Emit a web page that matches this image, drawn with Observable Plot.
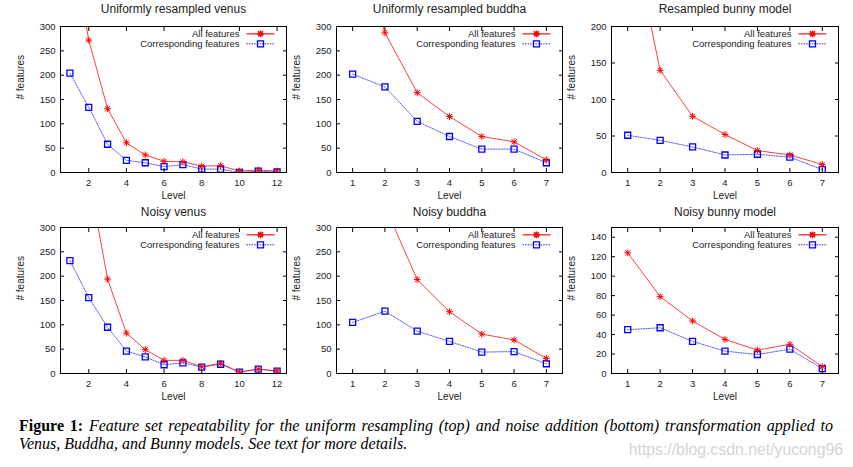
<!DOCTYPE html>
<html><head><meta charset="utf-8">
<script src="https://cdn.jsdelivr.net/npm/d3@7"></script>
<script src="https://cdn.jsdelivr.net/npm/@observablehq/plot@0.6"></script>
<style>
body{margin:0;background:#fff;}
#fig{position:relative;width:853px;height:467px;overflow:hidden;background:#fff;}
.panel{position:absolute;}
.panel svg{overflow:visible;}
.cap{position:absolute;left:19px;font-family:"Liberation Serif","Times New Roman",serif;font-size:16px;line-height:18px;color:#000;white-space:nowrap;}
#cap1{top:416.5px;width:814px;text-align:justify;text-align-last:justify;white-space:normal;}
#cap2{top:434.5px;}
#wm{position:absolute;right:10px;top:441px;font-family:"Liberation Sans",Arial,sans-serif;font-size:15.8px;line-height:18px;color:#d4d4d4;}
</style></head>
<body><div id="fig"></div>
<script>
// ---- data ----
const levels12 = [1,2,3,4,5,6,7,8,9,10,11,12];
const levels7 = [1,2,3,4,5,6,7];
const xTicks12 = [2,4,6,8,10,12];
const xTicks7 = [1,2,3,4,5,6,7];
const yTicks300 = [0,50,100,150,200,250,300];
const yTicks200 = [0,50,100,150,200];
const yTicks140 = [0,20,40,60,80,100,120,140];
const legendLabels = ["All features", "Corresponding features"];
const titles = ["Uniformly resampled venus","Uniformly resampled buddha","Resampled bunny model","Noisy venus","Noisy buddha","Noisy bunny model"];
const xLabel = "Level";
const yLabel = "# features";
const captionBold = "Figure 1:";
const captionLine1 = "Feature set repeatability for the uniform resampling (top) and noise addition (bottom) transformation applied to";
const captionLine2 = "Venus, Buddha, and Bunny models. See text for more details.";
const watermark = "https://blog.csdn.net/yucong96";

const venusUniformAll  = [492, 272, 131, 61, 36, 23, 22, 13, 14, 3, 5, 3];
const venusUniformCorr = [204, 134, 58, 25, 20, 12, 16, 7, 7, 0, 3, 1];
const buddhaUniformAll  = [500, 287, 164, 115, 74, 63, 26];
const buddhaUniformCorr = [202, 176, 105, 74, 48, 48, 20];
const bunnyResampledAll  = [354, 140, 77, 52, 30, 24, 11];
const bunnyResampledCorr = [51, 44, 35, 24, 25, 21, 4];
const venusNoisyAll  = [600, 406, 194, 83, 49, 27, 27, 14, 21, 3, 9, 5];
const venusNoisyCorr = [232, 156, 95, 46, 34, 18, 22, 13, 19, 3, 9, 5];
const buddhaNoisyAll  = [450, 344, 193, 127, 81, 69, 31];
const buddhaNoisyCorr = [105, 128, 87, 66, 44, 45, 20];
const bunnyNoisyAll  = [124, 79, 54, 35, 24, 30, 7];
const bunnyNoisyCorr = [45, 47, 33, 23, 19.5, 25, 5];

// ---- symbols ----
const starSymbol = {draw(ctx){ const r=3.4, d=2.5;
  ctx.moveTo(-r,0); ctx.lineTo(r,0); ctx.moveTo(0,-r); ctx.lineTo(0,r);
  ctx.moveTo(-d,-d); ctx.lineTo(d,d); ctx.moveTo(-d,d); ctx.lineTo(d,-d);}};
const squareSymbol = {draw(ctx){ const h=3; ctx.moveTo(-h,-h); ctx.lineTo(h,-h); ctx.lineTo(h,h); ctx.lineTo(-h,h); ctx.closePath(); }};
const lineSymbol = {draw(ctx){ ctx.moveTo(-14,0); ctx.lineTo(14,0); }};

const RED = "#ff0000", BLUE = "#0000ff";
const cols = [{left:0,width:290,ml:60,mr:4},{left:285,width:280,ml:51,mr:3},{left:565,width:280,ml:46,mr:7}];
const rowsCfg = [{top:0,height:200,mt:26,mb:28,tdy:-17},{top:200,height:205,mt:27,mb:32,tdy:-15.5}];

function panel(idx, levels, all, corr, xTicks, yDomain, yTicks) {
  const c = cols[idx % 3], r = rowsCfg[Math.floor(idx / 3)];
  const data = levels.map((l, i) => ({level: l, all: all[i], corr: corr[i]}));
  const txt = {fill: "#222", stroke: "none", lineAnchor: "middle"};
  const plot = Plot.plot({
    width: c.width, height: r.height,
    marginLeft: c.ml, marginRight: c.mr, marginTop: r.mt, marginBottom: r.mb,
    style: {fontFamily: "'Liberation Sans', Arial, sans-serif", fontSize: "9.5px", color: "#222", background: "transparent"},
    x: {domain: [0.5, levels.length + 0.5]},
    y: {domain: yDomain},
    marks: [
      Plot.axisX(xTicks, {anchor: "bottom", tickSize: -4, tickPadding: 10.5, label: null, stroke: "#000"}),
      Plot.axisX(xTicks, {anchor: "top", tickSize: -4, fill: "none", label: null, stroke: "#000"}),
      Plot.axisY(yTicks, {anchor: "left", tickSize: -4, tickPadding: 9, label: null, stroke: "#000"}),
      Plot.axisY(yTicks, {anchor: "right", tickSize: -4, fill: "none", label: null, stroke: "#000"}),
      Plot.line(data, {x: "level", y: "corr", stroke: BLUE, strokeOpacity: 0.65, strokeWidth: 1, strokeDasharray: "1.3,1.3", clip: true}),
      Plot.line(data, {x: "level", y: "all", stroke: RED, strokeOpacity: 0.75, strokeWidth: 1, clip: true}),
      Plot.dot(data, {x: "level", y: "corr", symbol: squareSymbol, stroke: BLUE, fill: "none", strokeWidth: 1.3, clip: true}),
      Plot.dot(data, {x: "level", y: "all", symbol: starSymbol, stroke: RED, fill: "none", strokeWidth: 1, clip: true}),
      Plot.frame({stroke: "#000", strokeWidth: 1}),
      // legend
      Plot.text([legendLabels[0]], {text: d => d, frameAnchor: "top-right", dx: -47, dy: 7.3, textAnchor: "end", fontSize: 9.5, ...txt}),
      Plot.text([legendLabels[1]], {text: d => d, frameAnchor: "top-right", dx: -47, dy: 17, textAnchor: "end", fontSize: 9.5, ...txt}),
      Plot.dot([legendLabels[0]], {frameAnchor: "top-right", dx: -26, dy: 7.3, symbol: lineSymbol, stroke: RED, strokeOpacity: 0.75, fill: "none"}),
      Plot.dot([legendLabels[0]], {frameAnchor: "top-right", dx: -26, dy: 7.3, symbol: starSymbol, stroke: RED, fill: "none"}),
      Plot.dot([legendLabels[1]], {frameAnchor: "top-right", dx: -26, dy: 17.3, symbol: lineSymbol, stroke: BLUE, strokeOpacity: 0.65, strokeDasharray: "1.3,1.3", fill: "none"}),
      Plot.dot([legendLabels[1]], {frameAnchor: "top-right", dx: -26, dy: 17.3, symbol: squareSymbol, stroke: BLUE, strokeWidth: 1.3, fill: "none"}),
      // titles & labels
      Plot.text([titles[idx]], {text: d => d, frameAnchor: "top", dy: r.tdy, fontSize: 12, ...txt}),
      Plot.text([xLabel], {text: d => d, frameAnchor: "bottom", dy: 23.5, fontSize: 10, ...txt}),
      Plot.text([yLabel], {text: d => d, frameAnchor: "left", dx: -39.5, rotate: -90, fontSize: 10, ...txt})
    ]
  });
  const div = document.createElement("div");
  div.className = "panel";
  div.style.left = c.left + "px";
  div.style.top = r.top + "px";
  div.appendChild(plot);
  document.getElementById("fig").appendChild(div);
}

panel(0, levels12, venusUniformAll, venusUniformCorr, xTicks12, [0, 300], yTicks300);
panel(1, levels7, buddhaUniformAll, buddhaUniformCorr, xTicks7, [0, 300], yTicks300);
panel(2, levels7, bunnyResampledAll, bunnyResampledCorr, xTicks7, [0, 200], yTicks200);
panel(3, levels12, venusNoisyAll, venusNoisyCorr, xTicks12, [0, 300], yTicks300);
panel(4, levels7, buddhaNoisyAll, buddhaNoisyCorr, xTicks7, [0, 300], yTicks300);
panel(5, levels7, bunnyNoisyAll, bunnyNoisyCorr, xTicks7, [0, 150], yTicks140);

const fig = document.getElementById("fig");
const c1 = document.createElement("div");
c1.id = "cap1"; c1.className = "cap";
const b = document.createElement("b"); b.textContent = captionBold;
const i1 = document.createElement("i"); i1.textContent = captionLine1;
c1.appendChild(b); c1.appendChild(document.createTextNode(" ")); c1.appendChild(i1);
fig.appendChild(c1);
const c2 = document.createElement("div");
c2.id = "cap2"; c2.className = "cap";
const i2 = document.createElement("i"); i2.textContent = captionLine2;
c2.appendChild(i2);
fig.appendChild(c2);
const wm = document.createElement("div");
wm.id = "wm";
wm.textContent = watermark;
fig.appendChild(wm);
</script>
</body></html>
